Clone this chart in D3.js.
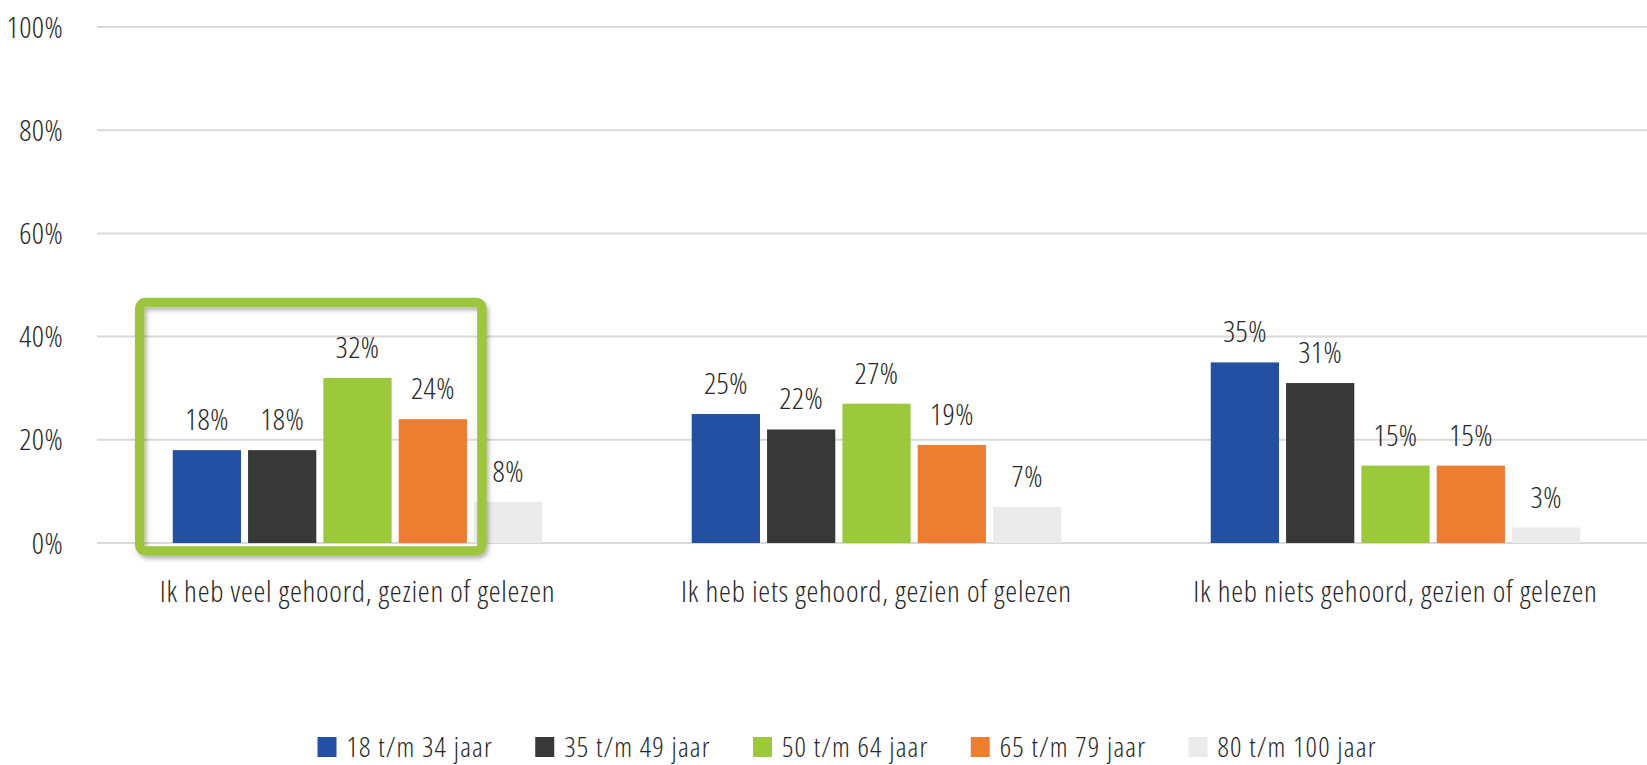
<!DOCTYPE html>
<html>
<head>
<meta charset="utf-8">
<script src="https://cdn.jsdelivr.net/npm/d3@7"></script>
<style>
  html, body { margin: 0; padding: 0; background: #fff; }
  svg text { font-family: 'Open Sans', 'Liberation Sans Narrow', sans-serif; font-stretch: 75%; font-weight: 300; fill: #262626; }
</style>
</head>
<body>
<div id="chart"></div>
<script>
var categories = ['Ik heb veel gehoord, gezien of gelezen', 'Ik heb iets gehoord, gezien of gelezen', 'Ik heb niets gehoord, gezien of gelezen'];
var seriesNames = ['18 t/m 34 jaar', '35 t/m 49 jaar', '50 t/m 64 jaar', '65 t/m 79 jaar', '80 t/m 100 jaar'];
var seriesColors = ['#2450a4', '#383838', '#9cc93b', '#ed7d31', '#eaebea'];
var values = [
  [18, 25, 35],   // 18 t/m 34
  [18, 22, 31],   // 35 t/m 49
  [32, 27, 15],   // 50 t/m 64
  [24, 19, 15],   // 65 t/m 79
  [8, 7, 3]       // 80 t/m 100
];
var yTicks = [0, 20, 40, 60, 80, 100];
var highlighted = 0;   // category with the green frame

var width = 1647, height = 765;

var svg = d3.select('#chart').append('svg')
    .attr('width', width)
    .attr('height', height);

var x0 = d3.scaleBand()
    .domain(categories)
    .range([98, 1655])
    .paddingInner(0.288)
    .paddingOuter(0.144);

var x1 = d3.scaleBand()
    .domain(seriesNames)
    .range([0, x0.bandwidth()])
    .paddingInner(0.094);

var y = d3.scaleLinear()
    .domain([0, 100])
    .range([543, 27]);

var color = d3.scaleOrdinal()
    .domain(seriesNames)
    .range(seriesColors);

// gridlines + y labels
var yAxis = svg.append('g').attr('class', 'y axis');
yAxis.selectAll('line')
    .data(yTicks)
  .enter().append('line')
    .attr('x1', 97)
    .attr('x2', width)
    .attr('y1', function(d) { return y(d); })
    .attr('y2', function(d) { return y(d); })
    .attr('stroke', '#d9d9d9')
    .attr('stroke-width', 2);

yAxis.selectAll('text')
    .data(yTicks)
  .enter().append('text')
    .attr('x', 63)
    .attr('y', function(d) { return y(d); })
    .attr('dy', '.35em')
    .style('text-anchor', 'end')
    .style('font-size', '30px')
    .style('letter-spacing', '0.4px')
    .text(function(d) { return d + '%'; });

// bars
var rows = categories.map(function(c, i) {
  return { cat: c, bars: seriesNames.map(function(s, j) { return { name: s, value: values[j][i] }; }) };
});

var groups = svg.selectAll('.group')
    .data(rows)
  .enter().append('g')
    .attr('class', 'group')
    .attr('transform', function(d) { return 'translate(' + x0(d.cat) + ',0)'; });

groups.selectAll('rect')
    .data(function(d) { return d.bars; })
  .enter().append('rect')
    .attr('x', function(d) { return x1(d.name); })
    .attr('width', x1.bandwidth())
    .attr('y', function(d) { return y(d.value); })
    .attr('height', function(d) { return y(0) - y(d.value); })
    .style('fill', function(d) { return color(d.name); });

groups.selectAll('.label')
    .data(function(d) { return d.bars; })
  .enter().append('text')
    .attr('class', 'label')
    .attr('x', function(d) { return x1(d.name) + x1.bandwidth() / 2; })
    .attr('y', function(d) { return y(d.value) - 20; })
    .style('text-anchor', 'middle')
    .style('font-size', '30px')
    .style('letter-spacing', '0.4px')
    .text(function(d) { return d.value + '%'; });

// category labels
svg.selectAll('.cat')
    .data(categories)
  .enter().append('text')
    .attr('class', 'cat')
    .attr('x', function(d) { return x0(d) + x0.bandwidth() / 2; })
    .attr('y', y(0) + 59)
    .style('text-anchor', 'middle')
    .style('font-size', '30px')
    .style('letter-spacing', '0.75px')
    .text(function(d) { return d; });

// green highlight frame
var defs = svg.append('defs');
var filter = defs.append('filter')
    .attr('id', 'shadow')
    .attr('x', '-10%').attr('y', '-10%')
    .attr('width', '120%').attr('height', '120%');
filter.append('feDropShadow')
    .attr('dx', 2).attr('dy', 3)
    .attr('stdDeviation', 2)
    .attr('flood-color', '#000')
    .attr('flood-opacity', 0.3);

var hx = x0(categories[highlighted]);
var lastIn = seriesNames[3];
svg.append('rect')
    .attr('x', hx - 33)
    .attr('y', y(46.6))
    .attr('width', x1(lastIn) + x1.bandwidth() + 15 + 33)
    .attr('height', y(0) + 8 - y(46.6))
    .attr('rx', 6)
    .attr('fill', 'none')
    .attr('stroke', '#9dc53c')
    .attr('stroke-width', 9.5)
    .attr('filter', 'url(#shadow)');

// legend
var legend = svg.selectAll('.legend')
    .data(seriesNames)
  .enter().append('g')
    .attr('class', 'legend')
    .attr('transform', function(d, i) { return 'translate(' + (317.5 + i * 217.75) + ',737)'; });

legend.append('rect')
    .attr('width', 19)
    .attr('height', 20)
    .style('fill', color);

legend.append('text')
    .attr('x', 29)
    .attr('y', 20)
    .style('font-size', '28px')
    .style('letter-spacing', '1.2px')
    .text(function(d) { return d; });
</script>
</body>
</html>
